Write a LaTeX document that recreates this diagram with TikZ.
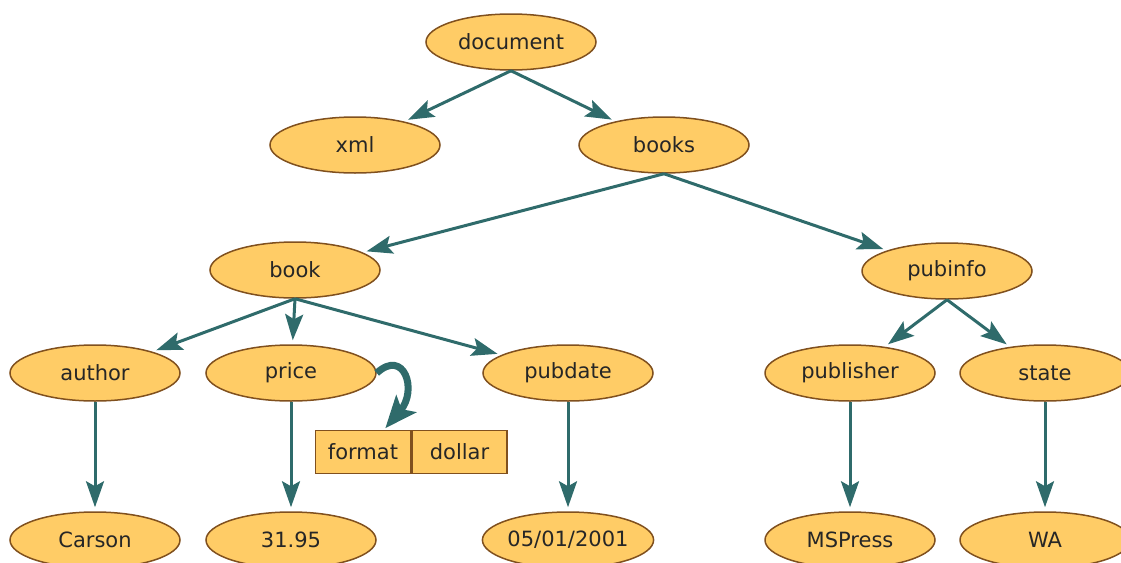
\documentclass[tikz,border=0pt]{standalone}
\usepackage{fontspec}
\setmainfont{DejaVu Sans}
\usetikzlibrary{shapes.geometric, arrows.meta, positioning}

\definecolor{elemfill}{RGB}{255,204,102}
\definecolor{elemline}{RGB}{128,80,30}
\definecolor{link}{RGB}{47,107,107}

\begin{document}
\begin{tikzpicture}[
    x=1pt, y=-1pt,
    elem/.style={ellipse, draw=elemline, line width=1.5pt, fill=elemfill, minimum width=170pt, minimum height=56pt, inner sep=0pt, text=black!85, font=\fontsize{21}{25}\selectfont},
    attr/.style={rectangle, draw=elemline, line width=1.5pt, fill=elemfill, minimum width=95pt, minimum height=43pt, inner sep=0pt, text=black!85, font=\fontsize{21}{25}\selectfont},
    arrow/.style={-{Stealth[length=26pt, width=18pt, inset=5pt]}, line width=3pt, draw=link, shorten >=4pt},
    hook/.style={-{Stealth[length=32pt, width=26pt, inset=7pt]}, line width=7pt, draw=link, shorten >=2pt}
]
\useasboundingbox (0,0) rectangle (1121,562);

% Nodes
\node (doc) [elem] at (511,42) {document};
\node (xml) [elem] at (355,145) {xml};
\node (books) [elem] at (664,145) {books};
\node (book) [elem] at (295,270) {book};
\node (pubinfo) [elem] at (947,271) {pubinfo};
\node (author) [elem] at (95,373) {author};
\node (price) [elem] at (291,373) {price};
\node (pubdate) [elem] at (568,373) {pubdate};
\node (publisher) [elem] at (850,373) {publisher};
\node (state) [elem] at (1045,373) {state};
\node (carson) [elem] at (95,540) {Carson};
\node (amount) [elem] at (291,540) {31.95};
\node (date) [elem] at (568,540) {05/01/2001};
\node (mspress) [elem] at (850,540) {MSPress};
\node (wa) [elem] at (1045,540) {WA};
\node (format) [attr] at (363,452) {format};
\node (dollar) [attr, right=0pt of format] {dollar};

% Arrows
\draw [arrow] (doc.south) -- (xml);
\draw [arrow] (doc.south) -- (books);
\draw [arrow] (books.south) -- (book);
\draw [arrow] (books.south) -- (pubinfo);
\draw [arrow] (book.south) -- (author);
\draw [arrow] (book.south) -- (price);
\draw [arrow] (book.south) -- (pubdate);
\draw [arrow] (pubinfo.south) -- (publisher);
\draw [arrow] (pubinfo.south) -- (state);
\draw [arrow] (author) -- (carson);
\draw [arrow] (price) -- (amount);
\draw [arrow] (pubdate) -- (date);
\draw [arrow] (publisher) -- (mspress);
\draw [arrow] (state) -- (wa);
\draw [hook] (price.east) .. controls (404,348) and (418,390) .. ([xshift=21pt]format.north);

\end{tikzpicture}
\end{document}
